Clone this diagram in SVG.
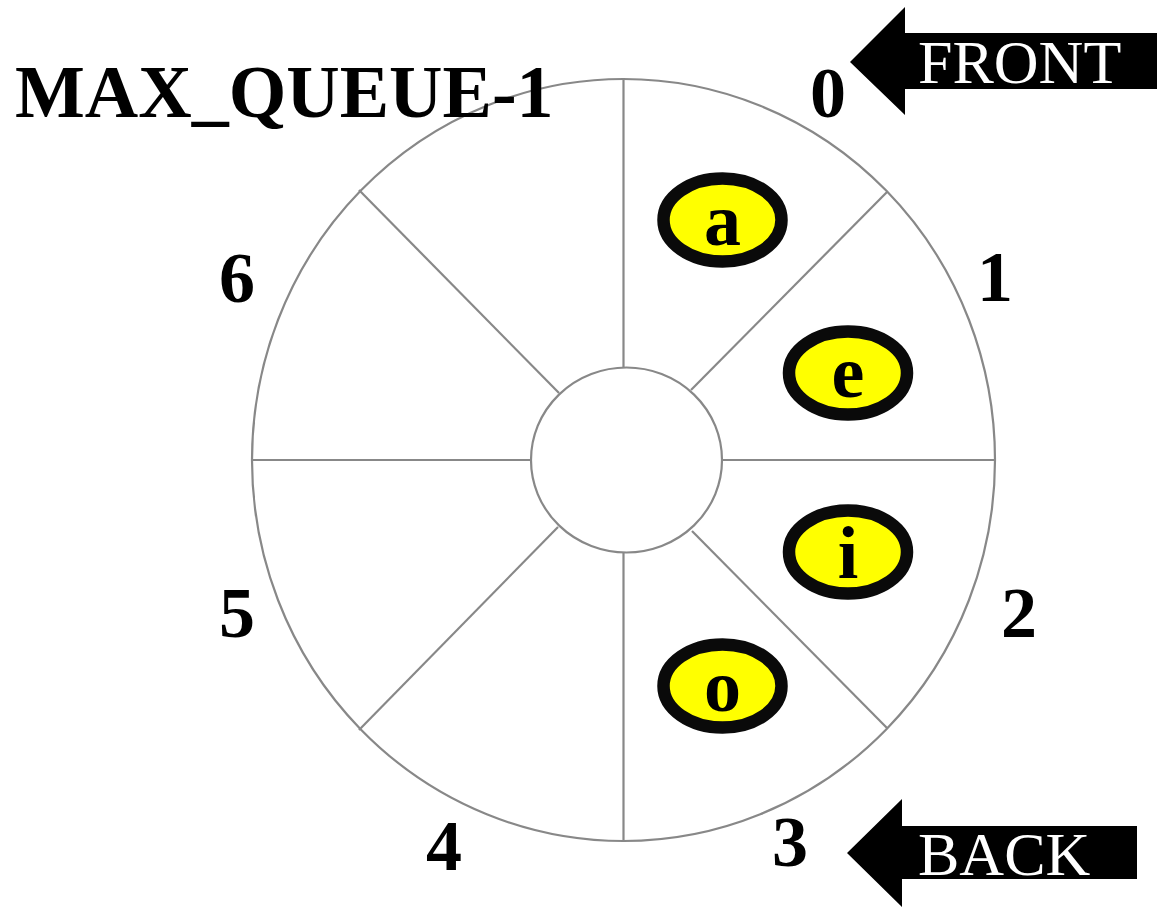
<svg xmlns="http://www.w3.org/2000/svg" width="1159" height="908" viewBox="0 0 1159 908">
  <style>
    .ring { fill: #ffffff; stroke: #888888; stroke-width: 2.2; }
    .spoke { stroke: #888888; stroke-width: 2.2; fill: none; }
    .item { fill: #ffff00; stroke: #0a0a0a; stroke-width: 12.5; }
    .letter { font-family: "Liberation Serif", "Times New Roman", serif; font-weight: bold; font-size: 74px; fill: #000; text-anchor: middle; }
    .idx { font-family: "Liberation Serif", "Times New Roman", serif; font-weight: bold; font-size: 72px; fill: #000; text-anchor: middle; }
    .title { font-family: "Liberation Serif", "Times New Roman", serif; font-weight: bold; font-size: 74px; fill: #000; }
    .ptr { fill: #000; }
    .ptrtext { font-family: "Liberation Serif", "Times New Roman", serif; font-size: 62px; fill: #fff; }
  </style>

  <rect width="1159" height="908" fill="#ffffff"/>

  <!-- circular buffer -->
  <g id="buffer">
    <ellipse class="ring" cx="623.5" cy="460" rx="371.5" ry="381"/>
    <ellipse class="ring" cx="626.5" cy="460" rx="95.5" ry="92.5"/>
  </g>

  <!-- slot dividers -->
  <g id="connectors">
    <line class="spoke" x1="623.5" y1="79" x2="623.5" y2="368"/>
    <line class="spoke" x1="623.5" y1="552" x2="623.5" y2="841"/>
    <line class="spoke" x1="252" y1="460" x2="531" y2="460"/>
    <line class="spoke" x1="722" y1="460" x2="995" y2="460"/>
    <line class="spoke" x1="887" y1="192" x2="691" y2="390"/>
    <line class="spoke" x1="887" y1="728" x2="692" y2="531"/>
    <line class="spoke" x1="359" y1="190" x2="559" y2="393"/>
    <line class="spoke" x1="359" y1="730" x2="558" y2="527"/>
  </g>

  <!-- stored elements -->
  <g id="item-a">
    <ellipse class="item" cx="722.5" cy="220" rx="59" ry="41.5"/>
    <text class="letter" x="722.5" y="245">a</text>
  </g>
  <g id="item-e">
    <ellipse class="item" cx="848" cy="373" rx="59" ry="41.5"/>
    <text class="letter" x="848" y="397">e</text>
  </g>
  <g id="item-i">
    <ellipse class="item" cx="848" cy="552" rx="59" ry="41.5"/>
    <text class="letter" x="848" y="578">i</text>
  </g>
  <g id="item-o">
    <ellipse class="item" cx="722.5" cy="686" rx="59" ry="41.5"/>
    <text class="letter" x="722.5" y="711">o</text>
  </g>

  <!-- slot indices -->
  <g id="indices">
    <text class="idx" x="828" y="117">0</text>
    <text class="idx" x="995" y="301">1</text>
    <text class="idx" x="1019" y="637">2</text>
    <text class="idx" x="790" y="866">3</text>
    <text class="idx" x="444" y="870">4</text>
    <text class="idx" x="237" y="637">5</text>
    <text class="idx" x="237" y="302">6</text>
  </g>

  <g id="label-max">
    <text class="title" x="15" y="117">MAX_QUEUE-1</text>
  </g>

  <!-- front pointer -->
  <g id="front">
    <polygon class="ptr" points="850,62 905,7 905,33 1157,33 1157,89 905,89 905,115"/>
    <text class="ptrtext" x="918" y="83" font-size="63">FRONT</text>
  </g>

  <!-- back pointer -->
  <g id="back">
    <polygon class="ptr" points="847,853 902,799 902,826 1137,826 1137,879 902,879 902,907"/>
    <text class="ptrtext" x="918" y="875" font-size="61">BACK</text>
  </g>
</svg>
